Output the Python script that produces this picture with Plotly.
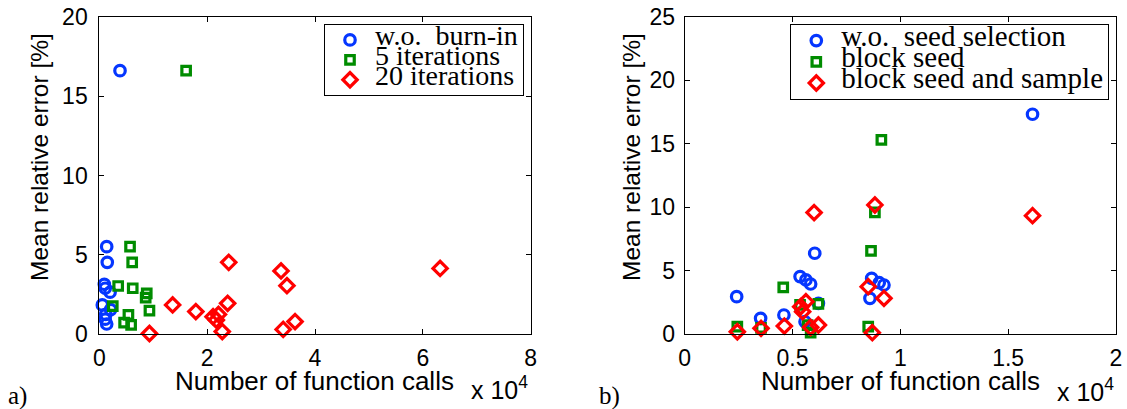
import plotly.graph_objects as go

# ---------------- data: panel a) ----------------
a_burnin_x = [3840, 1370, 1480, 930, 1100, 2000, 560, 2100, 1200, 1100, 1370]
a_burnin_y = [16.6, 5.52, 4.53, 3.15, 2.9, 2.65, 1.85, 1.55, 1.25, 0.95, 0.65]

a_iter5_x = [16100, 5700, 6100, 3500, 6200, 8800, 8600, 2500, 9300, 5400, 4600, 5900]
a_iter5_y = [16.6, 5.52, 4.53, 3.04, 2.9, 2.58, 2.31, 1.78, 1.49, 1.22, 0.73, 0.59]

a_iter20_x = [9300, 13600, 17900, 21100, 21700, 22100, 22800, 23800, 24000, 33700, 34800, 34100, 36300, 63200]
a_iter20_y = [0.05, 1.85, 1.43, 1.11, 0.9, 1.25, 0.17, 1.95, 4.53, 3.99, 3.06, 0.31, 0.8, 4.15]

# ---------------- data: panel b) ----------------
b_noseed_x = [16130, 6030, 2410, 5350, 5620, 5840, 6200, 3520, 4600, 5580, 8670, 9020, 9240, 8590]
b_noseed_y = [17.32, 6.38, 2.96, 4.54, 4.28, 3.96, 2.44, 1.26, 1.52, 0.99, 4.4, 4.06, 3.88, 2.83]

b_block_x = [9120, 8820, 8640, 4570, 5350, 6200, 2440, 3540, 5700, 5840, 8510]
b_block_y = [15.3, 9.6, 6.56, 3.7, 2.31, 2.4, 0.6, 0.5, 0.73, 0.13, 0.6]

b_sample_x = [16130, 8820, 6000, 8510, 9240, 5620, 5470, 5380, 2440, 3540, 4620, 5840, 6200, 8700]
b_sample_y = [9.34, 10.18, 9.58, 3.75, 2.83, 2.57, 1.78, 2.17, 0.2, 0.47, 0.65, 0.55, 0.73, 0.13]

a_ticks = [0, 20000, 40000, 60000, 80000]
a_ticktext = ["0", "2", "4", "6", "8"]
b_ticks = [0, 5000, 10000, 15000, 20000]
b_ticktext = ["0", "0.5", "1", "1.5", "2"]

BLUE = "#0536ff"
GREEN = "#008c00"
RED = "#ff0000"

W, H = 1127, 409


def px(x):
    return x / W


def py(y):
    return 1 - y / H


def lg(t, size):
    return '<span style="font-size:%dpx">%s</span>' % (size, t)


fig = go.Figure()

specs = [
    (a_burnin_x, a_burnin_y, "w.o.  burn-in", "circle-open", BLUE, 10.5, "x", "y", "legend", 28),
    (a_iter5_x, a_iter5_y, "5 iterations", "square-open", GREEN, 8.5, "x", "y", "legend", 28),
    (a_iter20_x, a_iter20_y, "20 iterations", "diamond-open", RED, 11, "x", "y", "legend", 28),
    (b_noseed_x, b_noseed_y, "w.o.  seed selection", "circle-open", BLUE, 10.5, "x2", "y2", "legend2", 29),
    (b_block_x, b_block_y, "block seed", "square-open", GREEN, 8.5, "x2", "y2", "legend2", 29),
    (b_sample_x, b_sample_y, "block seed and sample", "diamond-open", RED, 11, "x2", "y2", "legend2", 29),
]
for xs, ys, name, sym, col, sz, xa, ya, leg, fs in specs:
    fig.add_trace(go.Scatter(
        x=xs, y=ys, mode="markers", name=lg(name, fs),
        marker=dict(symbol=sym, size=sz, color=col, line=dict(color=col, width=3.2)),
        xaxis=xa, yaxis=ya, legend=leg, cliponaxis=False,
    ))

ydom = [py(334.3), py(16.7)]
tickfont = dict(family="Liberation Sans", size=23, color="black")
axcommon = dict(showline=True, linecolor="black", linewidth=1, mirror="ticks",
                ticks="inside", ticklen=5, tickcolor="black", showgrid=False,
                zeroline=False, tickfont=tickfont, automargin=False,
                ticklabeloverflow="allow")

fig.update_layout(
    width=W, height=H,
    margin=dict(l=0, r=0, t=0, b=0, pad=0, autoexpand=False),
    paper_bgcolor="white", plot_bgcolor="white",
    showlegend=True,
    xaxis=dict(domain=[px(99.3), px(530.7)], range=[0, 80000], tickvals=a_ticks,
               ticktext=a_ticktext, anchor="y", ticklabelstandoff=3, **axcommon),
    yaxis=dict(domain=ydom, range=[0, 20], tickvals=[0, 5, 10, 15, 20], anchor="x",
               ticklabelstandoff=6, **axcommon),
    xaxis2=dict(domain=[px(684.7), px(1116)], range=[0, 20000], tickvals=b_ticks,
                ticktext=b_ticktext, anchor="y2", ticklabelstandoff=3, **axcommon),
    yaxis2=dict(domain=ydom, range=[0, 25], tickvals=[0, 5, 10, 15, 20, 25], anchor="x2",
                ticklabelstandoff=4, **axcommon),
    legend=dict(x=px(524), xanchor="right", y=py(24), yanchor="top", bgcolor="white",
                bordercolor="black", borderwidth=1, itemwidth=40, tracegroupgap=0,
                font=dict(family="Liberation Serif", size=13, color="black")),
    legend2=dict(x=px(1109.3), xanchor="right", y=py(24), yanchor="top", bgcolor="white",
                 bordercolor="black", borderwidth=1, itemwidth=40, tracegroupgap=0,
                 font=dict(family="Liberation Serif", size=14, color="black")),
)

xt_font = dict(family="Liberation Sans", size=26, color="black")
yt_font = dict(family="Liberation Sans", size=24.5, color="black")
mult_font = dict(family="Liberation Sans", size=25, color="black")
serif = dict(family="Liberation Serif", size=25, color="black")
ann = [
    dict(text="Number of function calls", x=px(315), y=py(381), font=xt_font),
    dict(text="Number of function calls", x=px(900), y=py(381), font=xt_font),
    dict(text="Mean relative error [%]", x=px(39), y=py(157), font=yt_font, textangle=-90),
    dict(text="Mean relative error [%]", x=px(631), y=py(157), font=yt_font, textangle=-90),
    dict(text="x 10<sup>4</sup>", x=px(469), y=py(388), font=mult_font, xanchor="left"),
    dict(text="x 10<sup>4</sup>", x=px(1055), y=py(390), font=mult_font, xanchor="left"),
    dict(text="a)", x=px(6), y=py(396), font=serif, xanchor="left"),
    dict(text="b)", x=px(597), y=py(396), font=serif, xanchor="left"),
]
for a in ann:
    base = dict(xref="paper", yref="paper", showarrow=False, xanchor="center", yanchor="middle")
    base.update(a)
    fig.add_annotation(**base)

fig.write_html("out.html", config={"displayModeBar": False},
               post_script="document.body.style.margin='0px';")
